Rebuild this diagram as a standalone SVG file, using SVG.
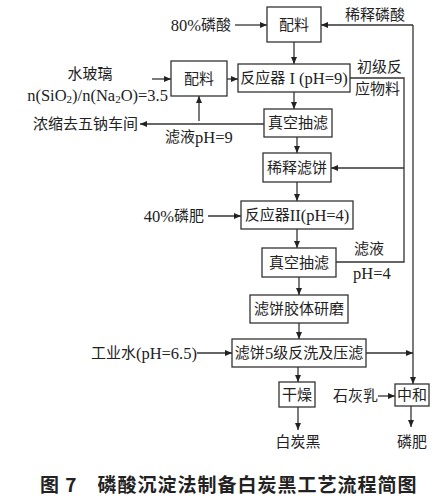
<svg xmlns="http://www.w3.org/2000/svg" width="448" height="498" viewBox="0 0 448 498">
<style>
.box{fill:#fff;stroke:#333;stroke-width:1.3}
.ln{fill:none;stroke:#333;stroke-width:1.3}
.t{font-family:"Liberation Serif","Noto Sans CJK SC",serif;font-size:15px;fill:#222;dominant-baseline:central}
.L{font-size:16.5px}
.c{text-anchor:middle}
.e{text-anchor:end}
.cap{font-family:"Noto Sans CJK SC",sans-serif;font-size:19px;font-weight:bold;fill:#222;dominant-baseline:central;letter-spacing:1px}
</style>
<defs>
<marker id="ar" markerWidth="7" markerHeight="6" refX="7" refY="3" orient="auto" markerUnits="userSpaceOnUse">
<path d="M0,0 L7,3 L0,6 Z" fill="#222"/>
</marker>
</defs>
<rect width="448" height="498" fill="#fff"/>
<g id="connectors">
<path class="ln" d="M235,25 H267" marker-end="url(#ar)"/>
<path class="ln" d="M413,25 H321" marker-end="url(#ar)"/>
<path class="ln" d="M413,25 V384" marker-end="url(#ar)"/>
<path class="ln" d="M294,42 V64" marker-end="url(#ar)"/>
<path class="ln" d="M152,79 H171" marker-end="url(#ar)"/>
<path class="ln" d="M227,79 H238" marker-end="url(#ar)"/>
<path class="ln" d="M294,92 V109" marker-end="url(#ar)"/>
<path class="ln" d="M199,121 V96" marker-end="url(#ar)"/>
<path class="ln" d="M264,124 H140" marker-end="url(#ar)"/>
<path class="ln" d="M350,78 H404 V262 H336"/>
<path class="ln" d="M404,168 H331" marker-end="url(#ar)"/>
<path class="ln" d="M297,137 V153" marker-end="url(#ar)"/>
<path class="ln" d="M297,182 V201" marker-end="url(#ar)"/>
<path class="ln" d="M208,216 H241" marker-end="url(#ar)"/>
<path class="ln" d="M297,229 V248" marker-end="url(#ar)"/>
<path class="ln" d="M299,277 V295" marker-end="url(#ar)"/>
<path class="ln" d="M299,323 V339" marker-end="url(#ar)"/>
<path class="ln" d="M197,353 H232" marker-end="url(#ar)"/>
<path class="ln" d="M366,353 H413" marker-end="url(#ar)"/>
<path class="ln" d="M298,367 V382" marker-end="url(#ar)"/>
<path class="ln" d="M378,396 H395" marker-end="url(#ar)"/>
<path class="ln" d="M298,407 V430" marker-end="url(#ar)"/>
<path class="ln" d="M411,406 V427" marker-end="url(#ar)"/>
</g>
<g id="mix1"><rect class="box" x="267" y="7" width="54" height="35"/><text class="t c" x="294" y="24.5">配料</text></g>
<g id="mix2"><rect class="box" x="171" y="61" width="56" height="35"/><text class="t c" x="199" y="78.5">配料</text></g>
<g id="reactor1"><rect class="box" x="238" y="64" width="112" height="28"/><text class="t c" x="294" y="78">反应器<tspan class="L"> I (pH=9)</tspan></text></g>
<g id="filter1"><rect class="box" x="264" y="109" width="68" height="28"/><text class="t c" x="298" y="123">真空抽滤</text></g>
<g id="dilute"><rect class="box" x="263" y="153" width="68" height="29"/><text class="t c" x="297" y="167.5">稀释滤饼</text></g>
<g id="reactor2"><rect class="box" x="241" y="201" width="112" height="28"/><text class="t c" x="297" y="215">反应器<tspan class="L">II(pH=4)</tspan></text></g>
<g id="filter2"><rect class="box" x="262" y="248" width="74" height="29"/><text class="t c" x="299" y="262.5">真空抽滤</text></g>
<g id="grind"><rect class="box" x="250" y="295" width="98" height="28"/><text class="t c" x="299" y="309">滤饼胶体研磨</text></g>
<g id="wash"><rect class="box" x="232" y="339" width="134" height="28"/><text class="t c" x="299" y="353">滤饼<tspan class="L">5</tspan>级反洗及压滤</text></g>
<g id="dry"><rect class="box" x="279" y="382" width="36" height="25"/><text class="t c" x="297" y="394.5">干燥</text></g>
<g id="neutral"><rect class="box" x="395" y="384" width="34" height="22"/><text class="t c" x="412" y="395">中和</text></g>
<g id="labels">
<text class="t e" x="231" y="25"><tspan class="L">80%</tspan>磷酸</text>
<text class="t" x="345" y="15">稀释磷酸</text>
<text class="t c" x="90" y="74">水玻璃</text>
<text class="t L e" x="168" y="95">n(SiO<tspan font-size="11" dy="4">2</tspan><tspan dy="-4">)/n(Na</tspan><tspan font-size="11" dy="4">2</tspan><tspan dy="-4">O)=3.5</tspan></text>
<text class="t e" x="138" y="124">浓缩去五钠车间</text>
<text class="t" x="165" y="137">滤液<tspan class="L">pH=9</tspan></text>
<text class="t" x="357" y="67">初级反</text>
<text class="t" x="355" y="89">应物料</text>
<text class="t e" x="204" y="216"><tspan class="L">40%</tspan>磷肥</text>
<text class="t" x="354" y="249">滤液</text>
<text class="t L" x="353" y="273">pH=4</text>
<text class="t e" x="197" y="353">工业水<tspan class="L">(pH=6.5)</tspan></text>
<text class="t e" x="378" y="396">石灰乳</text>
<text class="t c" x="298" y="442">白炭黑</text>
<text class="t c" x="412" y="442">磷肥</text>
<text class="cap" x="40" y="483">图 7　磷酸沉淀法制备白炭黑工艺流程简图</text>
</g>
</svg>
